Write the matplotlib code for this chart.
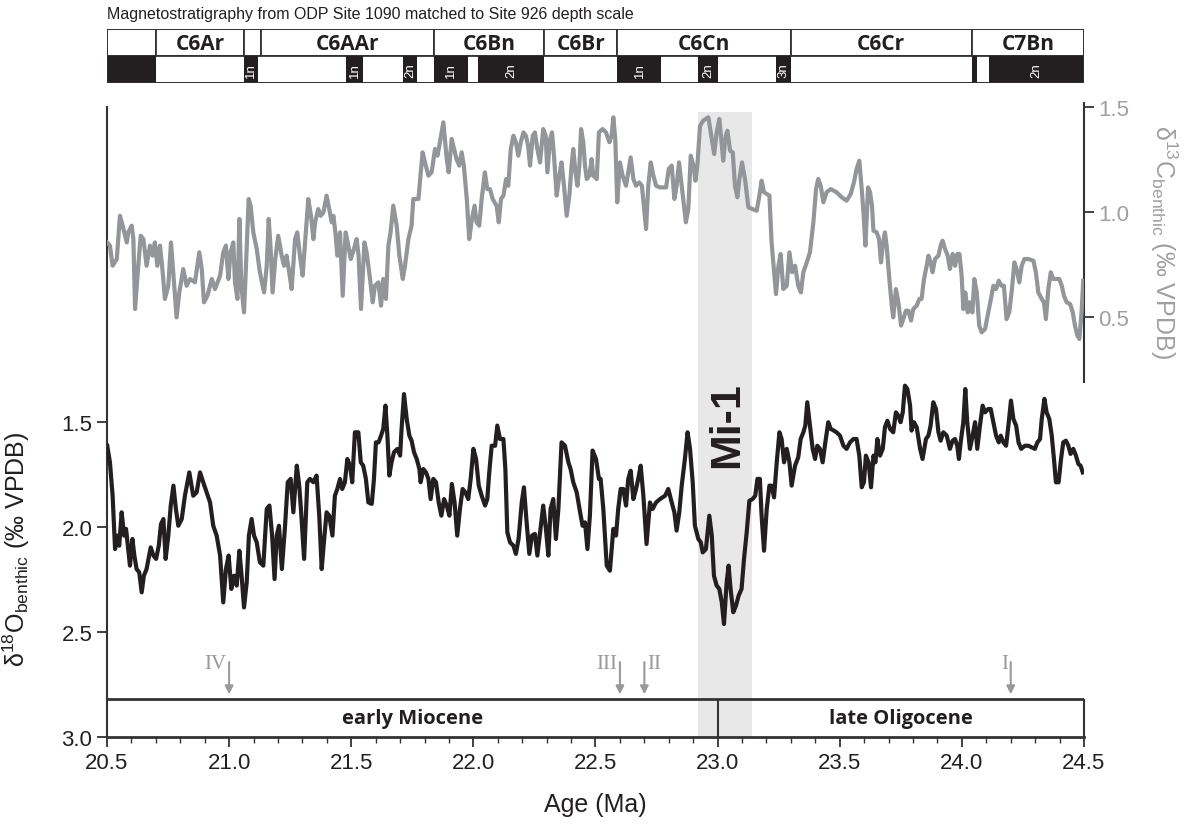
import numpy as np
import matplotlib
matplotlib.use('Agg')
import matplotlib.pyplot as plt
from matplotlib.patches import Rectangle

plt.rcParams['font.family'] = ['Liberation Sans', 'DejaVu Sans']
plt.rcParams['mathtext.fontset'] = 'custom'
plt.rcParams['mathtext.rm'] = 'Liberation Sans'
plt.rcParams['mathtext.it'] = 'Liberation Sans:italic'
plt.rcParams['mathtext.bf'] = 'Liberation Sans:bold'

# --- benthic d13C (right axis) ---
c13_age = [20.501, 20.512, 20.523, 20.540, 20.553, 20.564, 20.581, 20.587, 20.601, 20.608, 20.615, 20.628, 20.638, 20.649, 20.662, 20.676, 20.687, 20.696, 20.706, 20.717, 20.728, 20.737, 20.751, 20.762, 20.772, 20.785, 20.796, 20.812, 20.826, 20.840, 20.860, 20.878, 20.888, 20.897, 20.911, 20.929, 20.942, 20.963, 20.976, 20.987, 20.997, 21.006, 21.017, 21.024, 21.034, 21.042, 21.050, 21.061, 21.069, 21.080, 21.088, 21.099, 21.113, 21.126, 21.143, 21.154, 21.162, 21.170, 21.178, 21.189, 21.201, 21.215, 21.225, 21.235, 21.246, 21.256, 21.270, 21.279, 21.290, 21.301, 21.311, 21.324, 21.335, 21.345, 21.352, 21.365, 21.375, 21.386, 21.399, 21.410, 21.420, 21.427, 21.435, 21.443, 21.454, 21.465, 21.477, 21.488, 21.498, 21.511, 21.522, 21.530, 21.540, 21.554, 21.563, 21.577, 21.588, 21.597, 21.611, 21.622, 21.631, 21.642, 21.652, 21.661, 21.672, 21.686, 21.697, 21.711, 21.720, 21.734, 21.747, 21.754, 21.775, 21.792, 21.802, 21.816, 21.829, 21.843, 21.853, 21.863, 21.877, 21.891, 21.899, 21.911, 21.921, 21.931, 21.942, 21.952, 21.961, 21.973, 21.983, 21.994, 22.005, 22.013, 22.024, 22.034, 22.047, 22.057, 22.068, 22.079, 22.095, 22.104, 22.113, 22.123, 22.134, 22.143, 22.153, 22.164, 22.174, 22.184, 22.194, 22.205, 22.215, 22.224, 22.232, 22.243, 22.252, 22.262, 22.273, 22.286, 22.296, 22.303, 22.314, 22.322, 22.330, 22.341, 22.352, 22.361, 22.371, 22.382, 22.393, 22.402, 22.409, 22.418, 22.426, 22.434, 22.441, 22.450, 22.457, 22.464, 22.475, 22.484, 22.491, 22.505, 22.514,
           22.529, 22.543, 22.557, 22.566, 22.573, 22.581, 22.589, 22.600, 22.611, 22.625, 22.634, 22.644, 22.655, 22.666, 22.679, 22.690, 22.699, 22.707, 22.716, 22.726, 22.737, 22.748, 22.764, 22.789, 22.800, 22.812, 22.823, 22.832, 22.842, 22.853, 22.870, 22.880, 22.890, 22.901, 22.909, 22.917, 22.928, 22.941, 22.962, 22.976, 22.986, 22.996, 23.007, 23.017, 23.023, 23.033, 23.040, 23.051, 23.062, 23.071, 23.081, 23.089, 23.100, 23.112, 23.126, 23.143, 23.160, 23.171, 23.180, 23.190, 23.201, 23.212, 23.221, 23.239, 23.249, 23.258, 23.269, 23.283, 23.294, 23.305, 23.317, 23.330, 23.341, 23.351, 23.365, 23.378, 23.392, 23.403, 23.412, 23.422, 23.433, 23.446, 23.463, 23.487, 23.508, 23.528, 23.545, 23.558, 23.569, 23.580, 23.590, 23.597, 23.605, 23.616, 23.624, 23.632, 23.638, 23.651, 23.661, 23.669, 23.676, 23.685, 23.692, 23.703, 23.713, 23.719, 23.730, 23.740, 23.751, 23.760, 23.771, 23.781, 23.792, 23.801, 23.815, 23.826, 23.835, 23.845, 23.856, 23.863, 23.872, 23.880, 23.890, 23.904, 23.913, 23.921, 23.931, 23.942, 23.951, 23.962, 23.972, 23.981, 23.990, 23.999, 24.006, 24.014, 24.024, 24.033, 24.043, 24.051, 24.061, 24.071, 24.081, 24.095, 24.108, 24.119, 24.129, 24.140, 24.151, 24.162, 24.172, 24.183, 24.194, 24.205, 24.215, 24.224, 24.235, 24.245, 24.256, 24.272, 24.293, 24.303, 24.313, 24.327, 24.336, 24.344, 24.354, 24.364, 24.374, 24.385, 24.399, 24.409, 24.418, 24.429, 24.443, 24.454, 24.463, 24.473, 24.481, 24.490, 24.497]
c13_val = [0.855, 0.84, 0.744, 0.776, 0.982, 0.935, 0.855, 0.903, 0.935, 0.871, 0.538, 0.744, 0.887, 0.871, 0.744, 0.84, 0.792, 0.855, 0.744, 0.84, 0.713, 0.586, 0.649, 0.855, 0.697, 0.498, 0.617, 0.728, 0.649, 0.681, 0.665, 0.808, 0.728, 0.570, 0.601, 0.681, 0.633, 0.697, 0.808, 0.84, 0.681, 0.808, 0.855, 0.665, 0.586, 0.967, 0.649, 0.522, 0.744, 1.062, 1.030, 0.903, 0.824, 0.713, 0.617, 0.744, 0.967, 0.824, 0.617, 0.776, 0.887, 0.792, 0.744, 0.792, 0.713, 0.633, 0.871, 0.903, 0.792, 0.697, 0.855, 1.062, 0.982, 0.871, 0.951, 1.014, 0.982, 0.998, 1.078, 1.014, 0.951, 0.982, 0.903, 0.792, 0.903, 0.601, 0.903, 0.84, 0.776, 0.824, 0.871, 0.792, 0.538, 0.855, 0.808, 0.681, 0.570, 0.649, 0.665, 0.554, 0.681, 0.586, 0.84, 0.903, 1.030, 0.935, 0.792, 0.681, 0.744, 0.871, 0.935, 1.062, 1.062, 1.284, 1.236, 1.173, 1.189, 1.300, 1.268, 1.332, 1.427, 1.252, 1.189, 1.348, 1.300, 1.252, 1.221, 1.284, 1.221, 1.062, 0.871, 0.967, 1.030, 0.951, 0.935, 1.062, 1.189, 1.109, 1.109, 1.062, 1.030, 0.951, 1.062, 1.078, 1.157, 1.125, 1.300, 1.363, 1.332, 1.268, 1.332, 1.379, 1.363, 1.316, 1.221, 1.363, 1.379, 1.300, 1.236, 1.395, 1.363, 1.189, 1.348, 1.379, 1.268, 1.078, 1.173, 1.236, 1.125, 0.982, 1.078, 1.221, 1.300, 1.189, 1.125, 1.221, 1.395, 1.332, 1.221, 1.157, 1.173, 1.252, 1.173, 1.157, 1.379,
           1.395, 1.379, 1.332, 1.363, 1.451, 1.348, 1.046, 1.236, 1.173, 1.125, 1.189, 1.260, 1.157, 1.125, 1.141, 1.125, 1.014, 0.919, 1.125, 1.236, 1.173, 1.125, 1.117, 1.117, 1.205, 1.221, 1.062, 1.125, 1.236, 1.125, 0.951, 1.014, 1.268, 1.221, 1.149, 1.221, 1.411, 1.435, 1.451, 1.348, 1.276, 1.379, 1.443, 1.316, 1.244, 1.363, 1.387, 1.292, 1.284, 1.125, 1.070, 1.157, 1.236, 1.157, 1.022, 1.014, 1.006, 1.078, 1.149, 1.094, 1.086, 1.078, 0.855, 0.609, 0.744, 0.800, 0.633, 0.649, 0.808, 0.713, 0.744, 0.649, 0.617, 0.713, 0.760, 0.808, 0.951, 1.109, 1.157, 1.125, 1.046, 1.094, 1.109, 1.094, 1.070, 1.054, 1.086, 1.141, 1.205, 1.244, 1.109, 1.000, 0.840, 1.117, 1.094, 1.030, 0.911, 0.903, 0.871, 0.760, 0.840, 0.903, 0.840, 0.681, 0.554, 0.498, 0.633, 0.570, 0.459, 0.490, 0.530, 0.530, 0.483, 0.538, 0.554, 0.586, 0.586, 0.681, 0.744, 0.792, 0.760, 0.713, 0.776, 0.792, 0.840, 0.863, 0.824, 0.792, 0.729, 0.800, 0.744, 0.800, 0.800, 0.697, 0.538, 0.617, 0.522, 0.570, 0.522, 0.681, 0.617, 0.459, 0.427, 0.443, 0.522, 0.586, 0.649, 0.633, 0.673, 0.649, 0.649, 0.490, 0.522, 0.633, 0.760, 0.729, 0.665, 0.744, 0.776, 0.776, 0.768, 0.713, 0.617, 0.586, 0.570, 0.490, 0.633, 0.713, 0.681, 0.681, 0.681, 0.649, 0.601, 0.570, 0.562, 0.522, 0.459, 0.411, 0.395, 0.522, 0.673]

# --- benthic d18O (left axis, reversed) ---
o18_age = [20.501, 20.512, 20.523, 20.533, 20.542, 20.550, 20.560, 20.570, 20.578, 20.587, 20.594, 20.604, 20.612, 20.621, 20.632, 20.642, 20.651, 20.662, 20.679, 20.690, 20.701, 20.712, 20.721, 20.731, 20.740, 20.751, 20.761, 20.772, 20.782, 20.792, 20.806, 20.819, 20.837, 20.853, 20.867, 20.881, 20.894, 20.908, 20.922, 20.935, 20.949, 20.963, 20.976, 20.987, 20.998, 21.009, 21.020, 21.031, 21.042, 21.051, 21.061, 21.072, 21.081, 21.092, 21.102, 21.113, 21.126, 21.140, 21.154, 21.165, 21.176, 21.186, 21.195, 21.204, 21.216, 21.229, 21.240, 21.252, 21.263, 21.277, 21.287, 21.294, 21.307, 21.320, 21.331, 21.345, 21.358, 21.369, 21.379, 21.388, 21.399, 21.410, 21.423, 21.433, 21.443, 21.454, 21.463, 21.474, 21.484, 21.495, 21.504, 21.515, 21.529, 21.539, 21.549, 21.560, 21.570, 21.584, 21.593, 21.601, 21.612, 21.622, 21.631, 21.640, 21.648, 21.656, 21.665, 21.675, 21.689, 21.700, 21.706, 21.716, 21.727, 21.738, 21.747, 21.757, 21.768, 21.779, 21.784, 21.795, 21.806, 21.816, 21.825, 21.836, 21.847, 21.858, 21.869, 21.880, 21.891, 21.902, 21.912, 21.923, 21.934, 21.945, 21.956, 21.967, 21.979, 21.989, 22.000, 22.011, 22.022, 22.034, 22.048, 22.057, 22.065, 22.075, 22.089, 22.098, 22.109, 22.123, 22.131, 22.139, 22.150, 22.164, 22.174, 22.185, 22.198, 22.207, 22.218, 22.229, 22.240, 22.252, 22.262, 22.273, 22.286, 22.297, 22.307, 22.316, 22.327, 22.338, 22.348, 22.361, 22.375, 22.389, 22.398, 22.409, 22.423, 22.437, 22.447, 22.457, 22.467, 22.477, 22.488, 22.502, 22.514,
           22.521, 22.532, 22.546, 22.559, 22.573, 22.584, 22.593, 22.603, 22.614, 22.625, 22.634, 22.644, 22.655, 22.666, 22.675, 22.685, 22.696, 22.709, 22.723, 22.734, 22.748, 22.764, 22.785, 22.798, 22.812, 22.823, 22.832, 22.843, 22.853, 22.866, 22.877, 22.887, 22.898, 22.907, 22.921, 22.931, 22.939, 22.952, 22.966, 22.976, 22.985, 22.996, 23.007, 23.017, 23.026, 23.037, 23.045, 23.053, 23.064, 23.075, 23.086, 23.098, 23.108, 23.119, 23.130, 23.143, 23.154, 23.163, 23.173, 23.180, 23.190, 23.201, 23.212, 23.221, 23.231, 23.242, 23.253, 23.262, 23.272, 23.283, 23.294, 23.303, 23.317, 23.330, 23.340, 23.351, 23.359, 23.367, 23.378, 23.389, 23.399, 23.408, 23.419, 23.430, 23.441, 23.453, 23.463, 23.476, 23.487, 23.501, 23.515, 23.528, 23.542, 23.556, 23.569, 23.580, 23.590, 23.599, 23.607, 23.618, 23.628, 23.638, 23.646, 23.654, 23.665, 23.676, 23.685, 23.695, 23.706, 23.719, 23.730, 23.740, 23.749, 23.758, 23.767, 23.777, 23.788, 23.794, 23.804, 23.815, 23.829, 23.839, 23.853, 23.863, 23.872, 23.883, 23.894, 23.904, 23.913, 23.924, 23.938, 23.951, 23.962, 23.972, 23.981, 23.988, 23.995, 24.006, 24.014, 24.022, 24.033, 24.044, 24.054, 24.063, 24.074, 24.085, 24.095, 24.108, 24.118, 24.129, 24.140, 24.151, 24.159, 24.170, 24.181, 24.192, 24.201, 24.211, 24.222, 24.232, 24.243, 24.258, 24.272, 24.286, 24.299, 24.309, 24.320, 24.327, 24.338, 24.347, 24.358, 24.368, 24.377, 24.385, 24.396, 24.406, 24.415, 24.426, 24.436, 24.445, 24.456, 24.467, 24.477, 24.486, 24.495]
o18_val = [1.613, 1.692, 1.851, 2.105, 2.041, 2.089, 1.930, 2.041, 2.009, 2.105, 2.184, 2.057, 2.136, 2.200, 2.216, 2.311, 2.232, 2.200, 2.097, 2.136, 2.152, 2.089, 1.986, 1.962, 2.152, 2.041, 1.898, 1.803, 1.914, 1.994, 1.962, 1.851, 1.740, 1.851, 1.835, 1.740, 1.787, 1.835, 1.883, 1.994, 2.041, 2.136, 2.359, 2.200, 2.136, 2.295, 2.232, 2.279, 2.113, 2.232, 2.383, 2.263, 2.041, 1.962, 2.041, 2.073, 2.168, 2.184, 1.914, 1.898, 2.041, 2.248, 2.041, 1.994, 2.200, 1.994, 1.787, 1.771, 1.930, 1.708, 1.803, 1.914, 2.152, 1.787, 1.771, 1.787, 1.755, 1.946, 2.200, 2.073, 1.930, 1.946, 2.041, 1.851, 1.819, 1.771, 1.819, 1.787, 1.676, 1.708, 1.787, 1.549, 1.549, 1.692, 1.708, 1.771, 1.883, 1.890, 1.771, 1.597, 1.597, 1.565, 1.533, 1.422, 1.565, 1.755, 1.692, 1.644, 1.628, 1.660, 1.533, 1.367, 1.486, 1.565, 1.589, 1.644, 1.676, 1.724, 1.787, 1.724, 1.740, 1.771, 1.867, 1.771, 1.787, 1.883, 1.946, 1.867, 1.898, 1.946, 1.795, 1.883, 2.041, 1.914, 1.819, 1.835, 1.867, 1.771, 1.628, 1.676, 1.803, 1.851, 1.898, 1.867, 1.740, 1.613, 1.613, 1.517, 1.581, 1.581, 1.724, 2.025, 2.073, 2.089, 2.128, 2.057, 1.883, 1.811, 1.978, 2.128, 2.041, 2.033, 2.136, 2.025, 1.898, 2.009, 2.136, 1.914, 1.867, 2.057, 1.914, 1.597, 1.613, 1.692, 1.724, 1.787, 1.835, 1.930, 1.994, 1.978, 2.105, 1.946, 1.636, 1.676, 1.771,
           1.771, 1.914, 2.184, 2.208, 2.009, 2.041, 1.914, 1.819, 1.819, 1.898, 1.771, 1.732, 1.867, 1.819, 1.771, 1.708, 1.851, 2.081, 1.883, 1.914, 1.883, 1.867, 1.851, 1.819, 1.883, 1.930, 2.017, 1.930, 1.803, 1.676, 1.549, 1.628, 1.787, 1.994, 2.057, 2.073, 2.121, 2.105, 1.946, 2.041, 2.232, 2.279, 2.295, 2.359, 2.462, 2.263, 2.184, 2.295, 2.406, 2.375, 2.327, 2.295, 2.152, 2.025, 1.875, 1.867, 1.851, 1.771, 1.771, 1.946, 2.113, 1.914, 1.803, 1.803, 1.859, 1.692, 1.549, 1.581, 1.692, 1.628, 1.692, 1.803, 1.708, 1.668, 1.581, 1.549, 1.517, 1.406, 1.517, 1.628, 1.676, 1.613, 1.628, 1.692, 1.597, 1.501, 1.533, 1.541, 1.549, 1.565, 1.613, 1.628, 1.597, 1.581, 1.581, 1.660, 1.811, 1.787, 1.660, 1.692, 1.811, 1.660, 1.692, 1.581, 1.660, 1.628, 1.525, 1.494, 1.533, 1.549, 1.454, 1.470, 1.501, 1.454, 1.327, 1.343, 1.422, 1.541, 1.501, 1.525, 1.628, 1.676, 1.581, 1.565, 1.517, 1.406, 1.438, 1.549, 1.589, 1.549, 1.565, 1.628, 1.589, 1.581, 1.613, 1.676, 1.597, 1.501, 1.343, 1.501, 1.628, 1.565, 1.501, 1.628, 1.517, 1.422, 1.454, 1.438, 1.438, 1.501, 1.565, 1.597, 1.565, 1.597, 1.613, 1.501, 1.398, 1.486, 1.517, 1.597, 1.628, 1.613, 1.613, 1.621, 1.628, 1.597, 1.581, 1.486, 1.390, 1.454, 1.486, 1.565, 1.676, 1.787, 1.787, 1.676, 1.597, 1.589, 1.613, 1.652, 1.628, 1.660, 1.700, 1.708, 1.740]

# --- magnetostratigraphy ---
chron_edges = [20.5, 20.70, 21.06, 21.13, 21.84, 22.29, 22.59, 23.30, 24.04, 24.5]
chron_names = ['', 'C6Ar', '', 'C6AAr', 'C6Bn', 'C6Br', 'C6Cn', 'C6Cr', 'C7Bn']
normal_start = [20.5, 21.06, 21.48, 21.71, 21.84, 22.02, 22.59, 22.92, 23.24, 24.04, 24.11]
normal_end = [20.70, 21.12, 21.55, 21.77, 21.98, 22.29, 22.77, 23.00, 23.30, 24.06, 24.5]
normal_names = ['', '1n', '1n', '2n', '1n', '2n', '1n', '2n', '3n', '', '2n']

# --- annotations ---
event_age = [21.0, 22.6, 22.7, 24.2]
event_name = ['IV', 'III', 'II', 'I']
event_side = ['right', 'right', 'left', 'right']
epoch_edges = [20.5, 23.0, 24.5]
epoch_names = ['early Miocene', 'late Oligocene']
mi1_span = (22.92, 23.14)

grey = '#939598'
dark = '#231f20'
edge = '#333333'
label_font = ['Open Sans', 'Liberation Sans']

fig = plt.figure(figsize=(11.84, 8.29), dpi=100)
ax = fig.add_axes([107/1184, 1-738/829, 977/1184, 630/829])
ax2 = ax.twinx()

ax.axvspan(mi1_span[0], mi1_span[1], ymin=0, ymax=0.992, color='#e8e8e8', lw=0, zorder=0)
ax.plot(o18_age, o18_val, color=dark, lw=3.0, solid_joinstyle='round', zorder=3)
ax2.plot(c13_age, c13_val, color=grey, lw=3.0, solid_joinstyle='round', zorder=3)

ax.set_xlim(20.5, 24.5)
ax.set_ylim(3.0, 0.0)
ax.set_yticks([1.5, 2.0, 2.5, 3.0])
ax.set_yticklabels(['1.5', '2.0', '2.5', '3.0'])
ax.set_xticks(np.arange(20.5, 24.51, 0.5))
ax.set_xticklabels(['%.1f' % t for t in np.arange(20.5, 24.51, 0.5)])
ax.set_xticks(np.arange(20.5, 24.51, 0.1), minor=True)
ax.tick_params(axis='both', which='major', labelsize=16, length=7, width=1.3, color=edge, labelcolor=dark)
ax.tick_params(axis='x', which='minor', length=4, width=1, color=edge)
ax.spines['top'].set_visible(False)
ax.spines['right'].set_visible(False)
ax.spines['left'].set_linewidth(1.5)
ax.spines['bottom'].set_linewidth(2)
ax.spines['left'].set_color(edge)
ax.spines['bottom'].set_color(edge)

ax2.set_ylim(-1.5, 1.5)
ax2.set_yticks([0.5, 1.0, 1.5])
ax2.set_yticklabels(['0.5', '1.0', '1.5'])
ax2.tick_params(axis='y', labelsize=16, length=7, width=1.3, color=edge, labelcolor='#a0a0a0')
for s in ['top', 'left', 'bottom']:
    ax2.spines[s].set_visible(False)
ax2.spines['right'].set_bounds(0.19, 1.52)
ax2.spines['right'].set_linewidth(1.5)
ax2.spines['right'].set_color(edge)

ax.set_xlabel('Age (Ma)', fontsize=18, color=dark)
ax.xaxis.set_label_coords(0.5, -0.088)
ax.set_ylabel(r'δ$^{18}$O$_{\mathrm{benthic}}$ (‰ VPDB)', fontsize=18, color=dark)
ax.yaxis.set_label_coords(-0.077, 0.30)
ax2.set_ylabel(r'δ$^{13}$C$_{\mathrm{benthic}}$ (‰ VPDB)', fontsize=18, color='#a0a0a0', rotation=270, va='bottom')
ax2.yaxis.set_label_coords(1.066, 0.787)

# Mi-1 label
ax.text(23.038, 1.51, 'Mi-1', rotation=90, ha='center', va='center', fontsize=31, fontweight='bold', color=dark, zorder=4)

# epoch bar
ax.hlines(2.82, 20.5, 24.5, color=edge, lw=2, zorder=4)
ax.vlines([epoch_edges[1], epoch_edges[2]], 2.82, 3.0, color=edge, lw=1.5, zorder=4, clip_on=False)
for i, name in enumerate(epoch_names):
    ax.text((epoch_edges[i] + epoch_edges[i+1]) / 2, 2.91, name, ha='center', va='center', fontsize=14.5, fontweight='bold', family=label_font, color=dark)

# event arrows
for a, n, side in zip(event_age, event_name, event_side):
    ax.annotate('', xy=(a, 2.81), xytext=(a, 2.63), arrowprops=dict(arrowstyle='-|>', color='#999999', lw=1.5, mutation_scale=12))
    dx = -0.012 if side == 'right' else 0.012
    ax.text(a + dx, 2.65, n, ha=side, va='center', fontsize=15, family=['Liberation Serif'], color='#999999')

# magnetostratigraphy strip
axm = fig.add_axes([107/1184, 1-84/829, 977/1184, 54/829])
axm.set_xlim(20.5, 24.5)
axm.set_ylim(0, 2)
axm.axis('off')
for i, name in enumerate(chron_names):
    x0, x1 = chron_edges[i], chron_edges[i+1]
    axm.add_patch(Rectangle((x0, 1), x1 - x0, 1, facecolor='white', edgecolor=edge, lw=1.3))
    if name:
        axm.text((x0 + x1) / 2, 1.47, name, ha='center', va='center', fontsize=15, fontweight='bold', family=label_font, color=dark)
axm.add_patch(Rectangle((20.5, 0), 4.0, 1, facecolor='white', edgecolor=edge, lw=1.3))
for x0, x1, name in zip(normal_start, normal_end, normal_names):
    axm.add_patch(Rectangle((x0, 0), x1 - x0, 1, facecolor=dark, edgecolor='none'))
    if name:
        axm.text((x0 + x1) / 2, 0.5, name, ha='center', va='center', rotation=90, fontsize=9.5, color='white')
axm.add_patch(Rectangle((20.5, 0), 4.0, 2, facecolor='none', edgecolor=edge, lw=1.3))

fig.text(107/1184, 1-14/829, 'Magnetostratigraphy from ODP Site 1090 matched to Site 926 depth scale', ha='left', va='center', fontsize=11.5, color=dark)

fig.savefig('out.png', dpi=100)
